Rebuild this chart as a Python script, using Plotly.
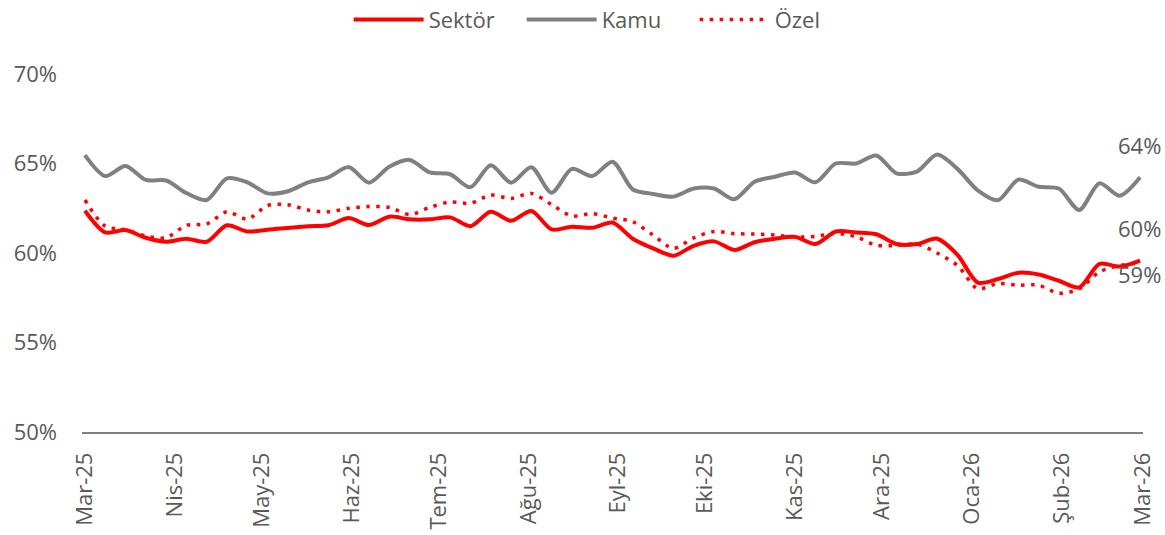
import pandas as pd
import plotly.graph_objs as go

# Weekly share series (%), Mar-25 .. Feb/Mar-26
dates = pd.date_range("2025-03-01", periods=53, freq="7D")

sektor = [
    62.36, 61.15, 61.28, 60.85, 60.63, 60.8, 60.63, 61.55, 61.2, 61.3, 61.4, 61.5, 61.55, 61.95,
    61.56, 62.03, 61.88, 61.88, 61.99, 61.5, 62.3, 61.8, 62.35, 61.32, 61.47, 61.41, 61.7, 60.8,
    60.26, 59.85, 60.4, 60.65, 60.17, 60.6, 60.8, 60.9, 60.5, 61.2, 61.15, 61.05, 60.5,
    60.5, 60.8, 59.9, 58.35, 58.55, 58.9, 58.8, 58.45, 58.08, 59.39, 59.24, 59.57,
]
kamu = [
    65.47, 64.30, 64.86, 64.08, 64.05, 63.35, 62.96, 64.17, 63.95, 63.33, 63.45, 63.95, 64.23, 64.8,
    63.93, 64.82, 65.2, 64.5, 64.4, 63.67, 64.9, 63.93, 64.79, 63.37, 64.7, 64.30, 65.1, 63.55,
    63.30, 63.15, 63.6, 63.6, 63.0, 63.98, 64.26, 64.5, 63.95, 65.0, 65.0, 65.45, 64.45, 64.55,
    65.5, 64.7, 63.5, 62.95, 64.1, 63.7, 63.6, 62.4, 63.9, 63.2, 64.23,
]
ozel = [
    62.96, 61.5, 61.3, 60.95, 60.85, 61.55, 61.62, 62.3, 61.9, 62.65, 62.7, 62.4, 62.3, 62.5,
    62.6, 62.55, 62.15, 62.55, 62.85, 62.78, 63.24, 63.05, 63.33, 62.7, 62.07, 62.2, 61.95, 61.75,
    61.0, 60.26, 60.85, 61.2, 61.08, 61.06, 61.0, 60.9, 60.93, 61.1, 60.91, 60.43, 60.42, 60.5,
    60.0, 59.3, 58.0, 58.3, 58.2, 58.2, 57.75, 58.0, 58.95, 59.3, 59.45,
]

tick_dates = pd.date_range("2025-03-01", periods=13, freq="MS")
tick_labels = ["Mar-25", "Nis-25", "May-25", "Haz-25", "Tem-25", "Ağu-25", "Eyl-25",
               "Eki-25", "Kas-25", "Ara-25", "Oca-26", "Şub-26", "Mar-26"]

RED = "#FF0000"
GRAY = "#808080"
TEXT = "#595959"
FONT = "Open Sans"

fig = go.Figure()

fig.add_trace(go.Scatter(
    x=dates, y=sektor, name="Sektör", mode="lines",
    line=dict(color=RED, width=4, shape="spline", smoothing=0.8),
))
fig.add_trace(go.Scatter(
    x=dates, y=kamu, name="Kamu", mode="lines",
    line=dict(color=GRAY, width=4, shape="spline", smoothing=0.8),
))
fig.add_trace(go.Scatter(
    x=dates, y=ozel, name="Özel", mode="lines",
    line=dict(color=RED, width=3.5, dash="3.5px,6.5px", shape="spline", smoothing=0.8),
))

# end-of-series labels
end_labels = [(kamu[-1], -32), (sektor[-1], -33), (ozel[-1], 11)]
for val, dy in end_labels:
    fig.add_annotation(
        x=dates[-1], y=val, text=f"{val:.0f}%", showarrow=False,
        xanchor="left", yanchor="middle", xshift=-24, yshift=-dy,
        font=dict(family=FONT, size=22, color=TEXT),
    )

fig.update_layout(
    width=1165,
    height=535,
    margin=dict(l=82, r=22, t=74, b=103),
    plot_bgcolor="white",
    paper_bgcolor="white",
    font=dict(family=FONT, size=22, color=TEXT),
    showlegend=True,
    legend=dict(
        orientation="h", x=0.522, xanchor="center", xref="container",
        y=0.963, yanchor="middle", yref="container",
        font=dict(family=FONT, size=22, color=TEXT),
        itemwidth=70,
        entrywidth=88,
        bgcolor="rgba(0,0,0,0)",
    ),
    xaxis=dict(
        type="date",
        range=[dates[0] - pd.Timedelta(days=1), tick_dates[-1]],
        tickvals=tick_dates,
        ticktext=tick_labels,
        tickangle=-90,
        showgrid=False,
        showline=True,
        linecolor="#808080",
        linewidth=1.5,
        ticks="",
        ticklabelstandoff=10,
        zeroline=False,
        automargin=False,
    ),
    yaxis=dict(
        range=[50, 70],
        tickvals=[50, 55, 60, 65, 70],
        ticktext=["50%", "55%", "60%", "65%", "70%"],
        showgrid=False,
        showline=False,
        zeroline=False,
        ticks="",
        ticklabelstandoff=24,
        automargin=False,
    ),
)

# drop the page's default body margin so the figure sits at the window's corner
fig.write_html(
    "out.html",
    config={"displayModeBar": False},
    post_script="document.body.style.margin='0';",
)
